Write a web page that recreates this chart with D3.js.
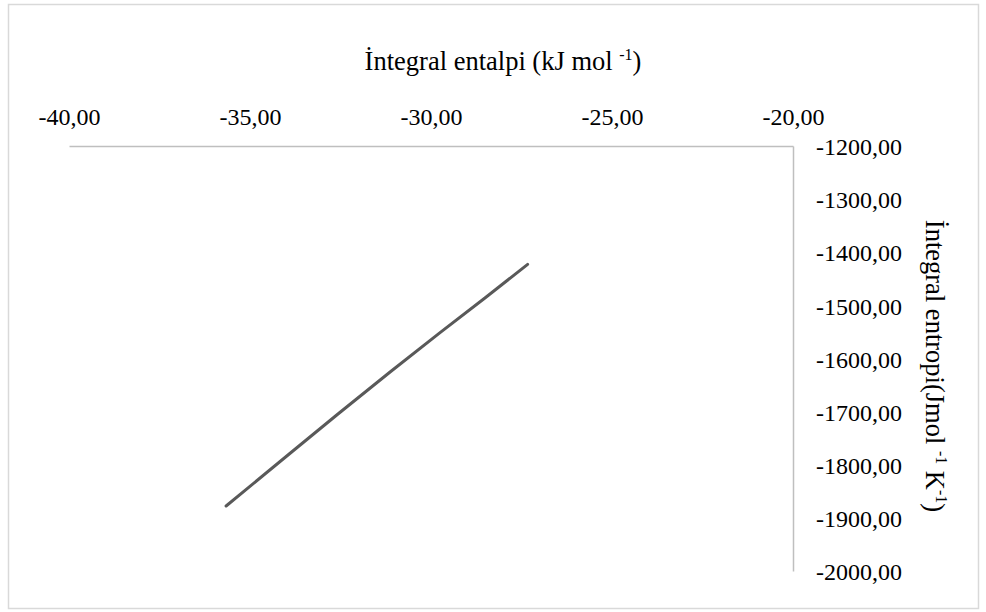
<!DOCTYPE html>
<html>
<head>
<meta charset="utf-8">
<script src="https://cdn.jsdelivr.net/npm/d3@7"></script>
<style>
  body { margin: 0; background: #fff; }
  svg text { font-family: "Liberation Serif", "Times New Roman", Times, "DejaVu Serif", serif; fill: #000; }
</style>
</head>
<body>
<div id="chart"></div>
<script>

// integral enthalpy (kJ mol-1) and integral entropy (J mol-1 K-1)
var entalpi = [-35.66, -33.90, -32.57, -31.13, -29.75, -28.51, -27.33];
var entropi = [-1877.6, -1778.8, -1704.5, -1625.4, -1551.4, -1486.1, -1422.7];

var xTicks = [-40, -35, -30, -25, -20];
var yTicks = [-1200, -1300, -1400, -1500, -1600, -1700, -1800, -1900, -2000];

var width = 986, height = 612;
var plotLeft = 69, plotRight = 793, plotTop = 146, plotBottom = 571;
var serif = '"Liberation Serif", "Times New Roman", Times, "DejaVu Serif", serif';

// turkish number style: comma decimal, plain hyphen
var locale = d3.formatLocale({decimal: ",", thousands: "", grouping: [3], currency: ["", ""], minus: "-"});
var fmt = locale.format(".2f");

var svg = d3.select("#chart").append("svg")
    .attr("width", width).attr("height", height)
    .style("font-family", serif);

// outer chart border
svg.append("rect")
    .attr("x", 8.5).attr("y", 4.5)
    .attr("width", 970).attr("height", 604)
    .attr("fill", "#fff").attr("stroke", "#d9d9d9").attr("stroke-width", 1.5);

var x = d3.scaleLinear().domain([-40, -20]).range([plotLeft, plotRight]);
var y = d3.scaleLinear().domain([-1200, -2000]).range([plotTop, plotBottom]);

// x axis sits on top, labels above the line
var xAxis = svg.append("g")
    .attr("transform", "translate(0," + plotTop + ")")
    .call(d3.axisTop(x).tickValues(xTicks).tickFormat(fmt).tickSize(0).tickPadding(21));

// y axis on right
var yAxis = svg.append("g")
    .attr("transform", "translate(" + plotRight + ",0)")
    .call(d3.axisRight(y).tickValues(yTicks).tickFormat(fmt).tickSize(0).tickPadding(23));

[xAxis, yAxis].forEach(function(a){
    a.attr("font-family", null);
    a.select(".domain").attr("stroke", "#bfbfbf").attr("stroke-width", 1.5);
    a.selectAll("text").attr("font-size", 24).style("font-family", serif).attr("fill", "#000");
});
yAxis.selectAll("text").attr("text-anchor", "start").attr("dy", "0.36em");

// axis titles
var xt = svg.append("text")
    .attr("x", 503).attr("y", 70)
    .attr("text-anchor", "middle")
    .attr("font-size", 26.5)
    .style("font-family", serif);
xt.append("tspan").text("İntegral entalpi (kJ mol ");
xt.append("tspan").attr("font-size", 16).attr("dy", -10).text("-1");
xt.append("tspan").attr("dy", 10).text(")");

var yt = svg.append("text")
    .attr("transform", "translate(926,366) rotate(90)")
    .attr("text-anchor", "middle")
    .attr("font-size", 26.5)
    .style("font-family", serif);
yt.append("tspan").text("İntegral entropi(Jmol ");
yt.append("tspan").attr("font-size", 16).attr("dy", -10).text("-1");
yt.append("tspan").attr("dy", 10).text(" K");
yt.append("tspan").attr("font-size", 16).attr("dy", -10).text("-1");
yt.append("tspan").attr("dy", 10).text(")");

// the series line
var pts = entalpi.map(function(d, i){ return [d, entropi[i]]; });
var line = d3.line()
    .x(function(d){ return x(d[0]); })
    .y(function(d){ return y(d[1]); });

svg.append("path")
    .datum(pts)
    .attr("d", line)
    .attr("fill", "none")
    .attr("stroke", "#595959")
    .attr("stroke-width", 3)
    .attr("stroke-linecap", "round")
    .attr("stroke-linejoin", "round");

</script>
</body>
</html>
